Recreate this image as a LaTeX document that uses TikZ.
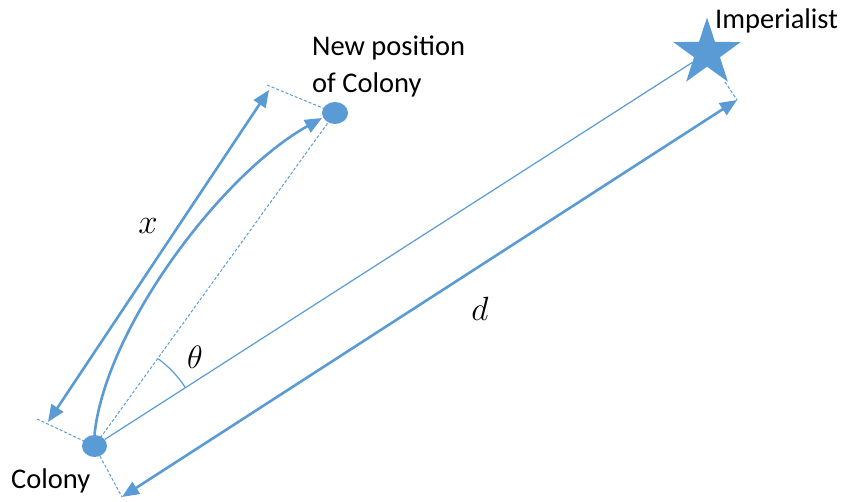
\documentclass[tikz,border=0pt]{standalone}
\usepackage{graphicx}
\usepackage{fontspec}
\setmainfont{Carlito}
\usetikzlibrary{arrows.meta,shapes.geometric,backgrounds,calc}
\definecolor{oblue}{HTML}{5B9BD5}
\tikzset{
  dotnode/.style={ellipse, fill=oblue, inner sep=0pt},
  thickarrow/.style={draw=oblue, line width=2.6pt, -{Triangle[length=17pt,width=14pt]}},
  dblarrow/.style={draw=oblue, line width=2.6pt, {Triangle[length=17pt,width=14pt]}-{Triangle[length=17pt,width=14pt]}},
  thinline/.style={draw=oblue, line width=1.2pt},
  dashline/.style={draw=oblue, line width=1pt, dash pattern=on 3pt off 2pt},
  lbl/.style={font=\fontsize{28.5}{37}\selectfont, inner sep=0pt, text=black},
  mlbl/.style={font=\fontsize{24}{24}\selectfont, inner sep=0pt, text=black}
}
\begin{document}
\begin{tikzpicture}[x=1pt,y=-1pt]
\useasboundingbox (0,0) rectangle (841,501);
% nodes
\node[dotnode, minimum width=25pt, minimum height=22pt] (colony) at (94.5,446) {};
\node[dotnode, minimum width=26pt, minimum height=22pt] (newpos) at (335,113) {};
\node[star, star points=5, star point ratio=2.6, fill=oblue, minimum size=71pt, inner sep=0pt] (imp) at (707,53) {};
% free ends
\coordinate (x1) at (48,422);
\coordinate (x2) at (269,90);
\coordinate (d1) at (122,497);
\coordinate (d2) at (737,100);
\coordinate (p1) at (37,419);
\coordinate (t1) at (267,85);
\coordinate (s1) at (725,82);
\coordinate (cend) at (322,118);
% labels
\node[lbl, anchor=base west] (implbl) at (715,28) {Imperialist};
\node[lbl, anchor=base west, align=left] (newlbl) at (312,92) {New position\\of Colony};
\node[lbl, anchor=base west] (collbl) at (11,488) {Colony};
\node[mlbl] (xlbl) at (148,226) {\scalebox{1.4}{$x$}};
\node[mlbl] (dlbl) at (480,309) {\scalebox{1.35}{$d$}};
\node[mlbl] (thlbl) at (195,357) {\scalebox{1.3}{$\theta$}};
\begin{scope}[on background layer]
  \draw[thinline] (colony) -- (imp);
  \draw[dashline] (colony.center) -- (newpos.center);
  \draw[dashline] (p1) -- (colony.center) -- (d1);
  \draw[dashline] (t1) -- (newpos.center);
  \draw[dashline] (s1) -- (d2);
  \draw[dblarrow] (x1) -- (x2);
  \draw[dblarrow] (d1) -- (d2);
  \draw[thickarrow] (colony.north) .. controls (105,330) and (220,175) .. (cend);
  \draw[thinline] ($(colony.center)+(-32.7:108)$) arc[start angle=-32.7, end angle=-53.9, radius=108];
\end{scope}
\end{tikzpicture}
\end{document}
